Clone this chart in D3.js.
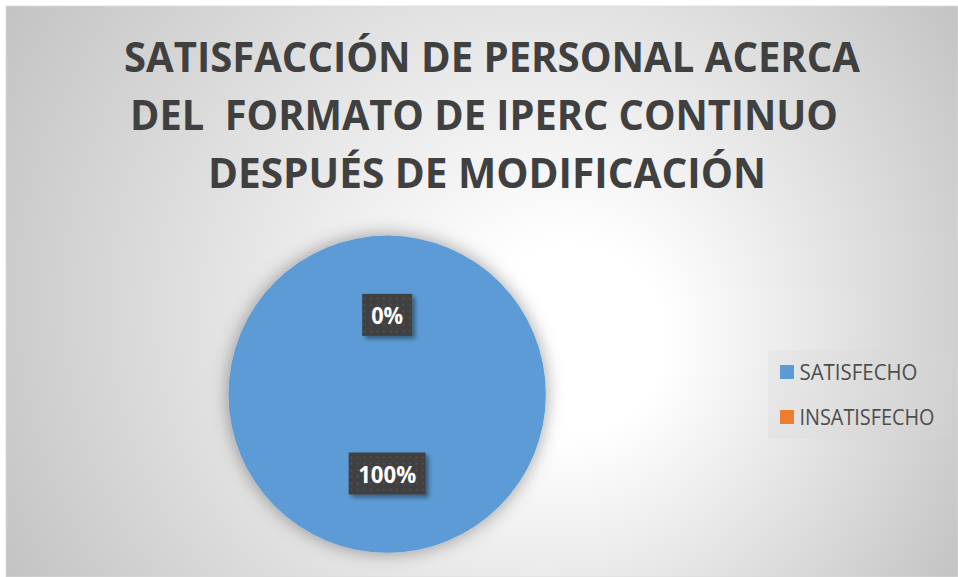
<!DOCTYPE html>
<html>
<head>
<meta charset="utf-8">
<script src="https://cdn.jsdelivr.net/npm/d3@7"></script>
<style>
  html, body { margin: 0; padding: 0; background: #ffffff; }
  svg { display: block; }
</style>
</head>
<body>
<svg id="chart" width="958" height="577"></svg>
<script>
// ---- data ----
const categories = ["SATISFECHO", "INSATISFECHO"];
const values = [100, 0];
const labels = ["100%", "0%"];
const colors = ["#5B9BD5", "#ED7D31"];
const titleLines = ["SATISFACCIÓN DE PERSONAL ACERCA", "DEL  FORMATO DE IPERC CONTINUO", "DESPUÉS DE MODIFICACIÓN"];

const W = 958, H = 577;
const svg = d3.select("#chart");
const defs = svg.append("defs");

// background radial gradient
const bg = defs.append("radialGradient").attr("id", "bgGrad")
  .attr("gradientUnits", "userSpaceOnUse")
  .attr("cx", 482).attr("cy", 291).attr("r", 555)
  .attr("fx", 590).attr("fy", 350);
bg.append("stop").attr("offset", "0").attr("stop-color", "#ffffff");
bg.append("stop").attr("offset", "0.17").attr("stop-color", "#ffffff");
bg.append("stop").attr("offset", "1").attr("stop-color", "#c3c3c3");

// pie shadow
const ps = defs.append("filter").attr("id", "pieShadow")
  .attr("x", "-30%").attr("y", "-30%").attr("width", "160%").attr("height", "160%");
ps.append("feDropShadow").attr("dx", 0).attr("dy", 0).attr("stdDeviation", 9)
  .attr("flood-color", "#000").attr("flood-opacity", 0.38);

// label shadow
const ls = defs.append("filter").attr("id", "lblShadow")
  .attr("x", "-30%").attr("y", "-30%").attr("width", "160%").attr("height", "160%");
ls.append("feDropShadow").attr("dx", 3).attr("dy", 3).attr("stdDeviation", 2)
  .attr("flood-color", "#000").attr("flood-opacity", 0.4);

// dot pattern for label boxes
const pat = defs.append("pattern").attr("id", "dots")
  .attr("patternUnits", "userSpaceOnUse").attr("width", 6.5).attr("height", 6.5);
pat.append("rect").attr("width", 6.5).attr("height", 6.5).attr("fill", "#404040");
pat.append("circle").attr("cx", 3.25).attr("cy", 3.25).attr("r", 0.9).attr("fill", "#575757");

// chart area
svg.append("rect").attr("x", 6).attr("y", 6).attr("width", W - 6).attr("height", H - 6)
  .attr("fill", "url(#bgGrad)").attr("stroke", "#d9d9d9").attr("stroke-width", 0.75);

// title
const titleX = [124, 130, 208];
const titleY = [72, 130, 188];
const titleW = [736, 708, 558];
svg.append("g").selectAll("text").data(titleLines).join("text")
  .attr("x", (d, i) => titleX[i]).attr("y", (d, i) => titleY[i])
  .attr("text-anchor", "start")
  .attr("font-family", "'Open Sans', sans-serif").attr("font-weight", 700)
  .attr("font-size", 41).attr("fill", "#404040")
  .attr("textLength", (d, i) => titleW[i]).attr("lengthAdjust", "spacingAndGlyphs")
  .style("white-space", "pre")
  .text(d => d);

// pie
const cx = 387.2, cy = 394.2, R = 158.6;
const pie = d3.pie().sort(null).value(d => d.v);
const arc = d3.arc().innerRadius(0).outerRadius(R);
const labelArc = d3.arc().innerRadius(0).outerRadius(R);
const data = categories.map((c, i) => ({ c, v: values[i], l: labels[i], col: colors[i] }));
const arcs = pie(data);

const g = svg.append("g").attr("transform", `translate(${cx},${cy})`);
g.append("g").attr("filter", "url(#pieShadow)").selectAll("path").data(arcs).join("path")
  .attr("d", arc).attr("fill", d => d.data.col);

// data labels
const lg = g.append("g").selectAll("g").data(arcs).join("g")
  .attr("transform", d => { const [x, y] = labelArc.centroid(d); return `translate(${x},${y})`; });
const boxW = { "0%": 50, "100%": 77 };
lg.append("rect")
  .attr("x", d => -boxW[d.data.l] / 2).attr("y", -21)
  .attr("width", d => boxW[d.data.l]).attr("height", 42)
  .attr("fill", "url(#dots)").attr("filter", "url(#lblShadow)");
lg.append("text")
  .attr("x", 0).attr("y", 9.5)
  .attr("text-anchor", "middle")
  .attr("font-family", "'Open Sans', sans-serif").attr("font-weight", 700)
  .attr("font-size", 23).attr("fill", "#ffffff")
  .attr("textLength", d => d.data.l === "0%" ? 32 : 58).attr("lengthAdjust", "spacingAndGlyphs")
  .text(d => d.data.l);

// legend
const leg = svg.append("g");
leg.append("rect").attr("x", 768).attr("y", 350).attr("width", 184).attr("height", 89)
  .attr("fill", "#d9d9d9").attr("fill-opacity", 0.25);
const legY = [372, 417];
const legTW = [118, 135];
const li = leg.selectAll("g").data(data).join("g")
  .attr("transform", (d, i) => `translate(780,${legY[i]})`);
li.append("rect").attr("x", 0).attr("y", -7).attr("width", 14).attr("height", 14)
  .attr("fill", d => d.col);
li.append("text").attr("x", 19.5).attr("y", 7.5)
  .attr("font-family", "'Open Sans', sans-serif").attr("font-size", 21)
  .attr("fill", "#4d4d4d")
  .attr("textLength", (d, i) => legTW[i]).attr("lengthAdjust", "spacingAndGlyphs")
  .text(d => d.c);
</script>
</body>
</html>
